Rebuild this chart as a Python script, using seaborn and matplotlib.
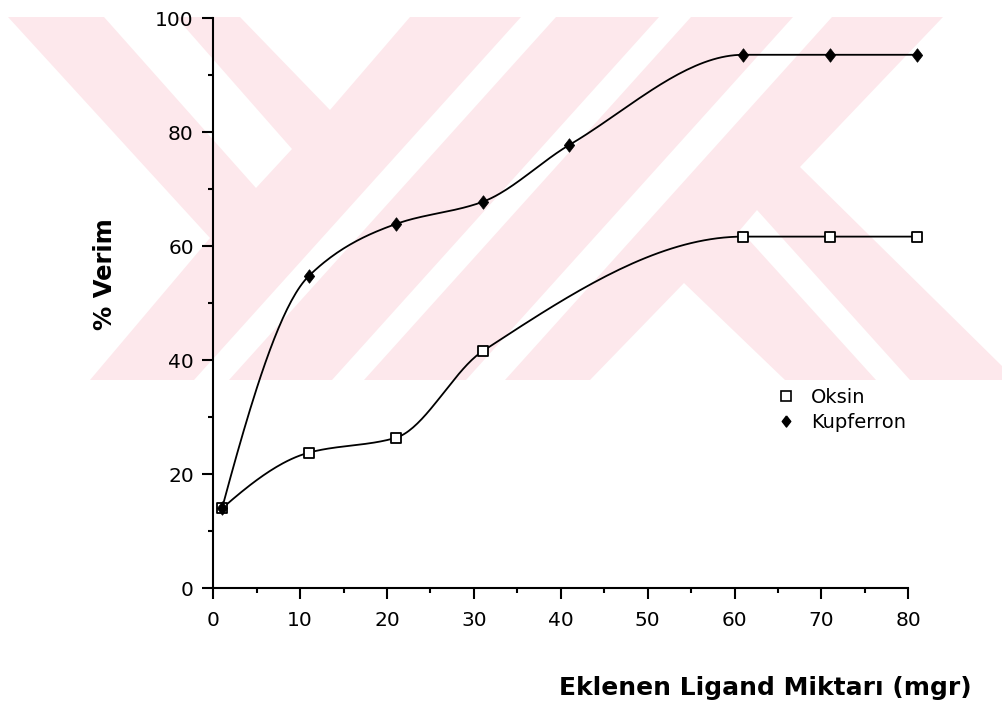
import numpy as np
import pandas as pd
import matplotlib
matplotlib.use("Agg")
import matplotlib.pyplot as plt
from matplotlib.patches import Polygon
from matplotlib.lines import Line2D
from matplotlib.ticker import MultipleLocator
import seaborn as sns

# ---- data -------------------------------------------------------------
oksin_mgr = [1, 11, 21, 31, 61, 71, 81]
oksin_verim = [14.0, 23.8, 26.4, 41.6, 61.7, 61.7, 61.7]
kupferron_mgr = [1, 11, 21, 31, 41, 61, 71, 81]
kupferron_verim = [14.0, 54.8, 63.9, 67.8, 77.8, 93.6, 93.6, 93.6]
series_names = ["Oksin", "Kupferron"]
x_ticks = [0, 10, 20, 30, 40, 50, 60, 70, 80]
y_ticks = [0, 20, 40, 60, 80, 100]
x_title = "Eklenen Ligand Miktarı (mgr)"
y_title = "% Verim"

sns.set_theme(style="ticks")
plt.rcParams["font.family"] = ["DejaVu Sans"]

W, H = 1003, 701
fig = plt.figure(figsize=(W / 100, H / 100), dpi=100)
fig.patch.set_facecolor("white")


def px(points):
    """Convert pixel coordinates (origin top-left) to figure fractions."""
    return [(x / W, 1 - y / H) for x, y in points]


# ---- pale background emblem --------------------------------------------
pink = "#fde8ec"
fig.patches.append(Polygon(px([(8, 17), (1003, 17), (1003, 380), (8, 380)]),
                           closed=True, transform=fig.transFigure,
                           facecolor=pink, edgecolor="none", zorder=-10))
gaps = [
    [(0, 17), (8, 17), (210, 238), (90, 380), (0, 380)],
    [(104, 17), (176, 17), (292, 149), (256, 188)],
    [(240, 17), (410, 17), (330, 110)],
    [(521, 17), (556, 17), (229, 380), (194, 380)],
    [(659, 17), (691, 17), (364, 380), (332, 380)],
    [(793, 17), (832, 17), (505, 380), (466, 380)],
    [(943, 17), (1003, 17), (1003, 367), (800, 167)],
    [(684, 283), (785, 380), (590, 380)],
    [(757, 210), (910, 380), (876, 380), (740, 230)],
]
for g in gaps:
    fig.patches.append(Polygon(px(g), closed=True, transform=fig.transFigure,
                               facecolor="white", edgecolor="none", zorder=-9))

# ---- axes ---------------------------------------------------------------
ax = fig.add_axes([213.3 / W, 1 - 588.3 / H, 695 / W, 570 / H])
ax.set_facecolor("none")


def smooth(xv, yv, n=40):
    """Monotone cubic (PCHIP) curve through the given points."""
    x = np.asarray(xv, float)
    y = np.asarray(yv, float)
    h = np.diff(x)
    d = np.diff(y) / h
    m = np.zeros_like(y)
    for k in range(1, len(x) - 1):
        if d[k - 1] * d[k] > 0:
            w1 = 2 * h[k] + h[k - 1]
            w2 = h[k] + 2 * h[k - 1]
            m[k] = (w1 + w2) / (w1 / d[k - 1] + w2 / d[k])

    def end(h0, h1, d0, d1):
        mm = ((2 * h0 + h1) * d0 - h0 * d1) / (h0 + h1)
        if np.sign(mm) != np.sign(d0):
            return 0.0
        if np.sign(d0) != np.sign(d1) and abs(mm) > abs(3 * d0):
            return 3 * d0
        return mm

    m[0] = end(h[0], h[1], d[0], d[1])
    m[-1] = end(h[-1], h[-2], d[-1], d[-2])
    xs, ys = [], []
    for k in range(len(h)):
        t = np.linspace(0, 1, n, endpoint=(k == len(h) - 1))
        h00 = 2 * t**3 - 3 * t**2 + 1
        h10 = t**3 - 2 * t**2 + t
        h01 = -2 * t**3 + 3 * t**2
        h11 = t**3 - t**2
        xs.append(x[k] + t * h[k])
        ys.append(h00 * y[k] + h10 * h[k] * m[k] + h01 * y[k + 1] + h11 * h[k] * m[k + 1])
    return np.concatenate(xs), np.concatenate(ys)


for xv, yv in [(oksin_mgr, oksin_verim), (kupferron_mgr, kupferron_verim)]:
    sx, sy = smooth(xv, yv)
    sns.lineplot(x=sx, y=sy, sort=False, estimator=None, color="black",
                 linewidth=1.3, ax=ax, clip_on=False)

diamond = [(0, 1.3), (1, 0), (0, -1.3), (-1, 0), (0, 1.3)]

df_k = pd.DataFrame({"mgr": kupferron_mgr, "verim": kupferron_verim})
df_o = pd.DataFrame({"mgr": oksin_mgr, "verim": oksin_verim})
sns.scatterplot(data=df_o, x="mgr", y="verim", marker="s", s=55,
                facecolor="white", edgecolor="black", linewidth=1.3, ax=ax,
                clip_on=False, zorder=5)
sns.scatterplot(data=df_k, x="mgr", y="verim", marker=diamond, s=95,
                color="black", edgecolor="black", linewidth=0.5, ax=ax,
                clip_on=False, zorder=6)

ax.set_xlim(0, 80)
ax.set_ylim(0, 100)
ax.set_xticks(x_ticks)
ax.set_yticks(y_ticks)
ax.xaxis.set_minor_locator(MultipleLocator(5))
ax.yaxis.set_minor_locator(MultipleLocator(10))
ax.tick_params(axis="both", which="major", direction="out", length=8,
               width=1.5, color="black", labelsize=14.5, labelcolor="black")
ax.tick_params(axis="x", which="major", pad=8)
ax.tick_params(axis="y", which="major", pad=6)
ax.tick_params(axis="both", which="minor", direction="out", length=3.5,
               width=1.5, color="black")
for side in ["top", "right"]:
    ax.spines[side].set_visible(False)
for side in ["left", "bottom"]:
    ax.spines[side].set_linewidth(1.5)
    ax.spines[side].set_color("black")
ax.set_xlabel("")
ax.set_ylabel("")

fig.text(972 / W, 1 - 688 / H, x_title, ha="right", va="center",
         fontsize=18, fontweight="bold", color="black")
fig.text(105 / W, 1 - 274 / H, y_title, ha="center", va="center",
         rotation=90, fontsize=17.5, fontweight="bold", color="black")

handles = [
    Line2D([], [], linestyle="none", marker="s", markersize=6.5,
           markerfacecolor="white", markeredgecolor="black", markeredgewidth=1.2),
    Line2D([], [], linestyle="none", marker=diamond, markersize=8,
           markerfacecolor="black", markeredgecolor="black"),
]
leg = ax.legend(handles, series_names, loc="upper left",
                bbox_to_anchor=(776 / W, 1 - 388 / H), bbox_transform=fig.transFigure,
                frameon=False, fontsize=14, handlelength=1.0, handletextpad=0.8,
                labelspacing=0.3, borderaxespad=0, borderpad=0)
for txt in leg.get_texts():
    txt.set_color("black")

fig.savefig("out.png", dpi=100, facecolor="white")
